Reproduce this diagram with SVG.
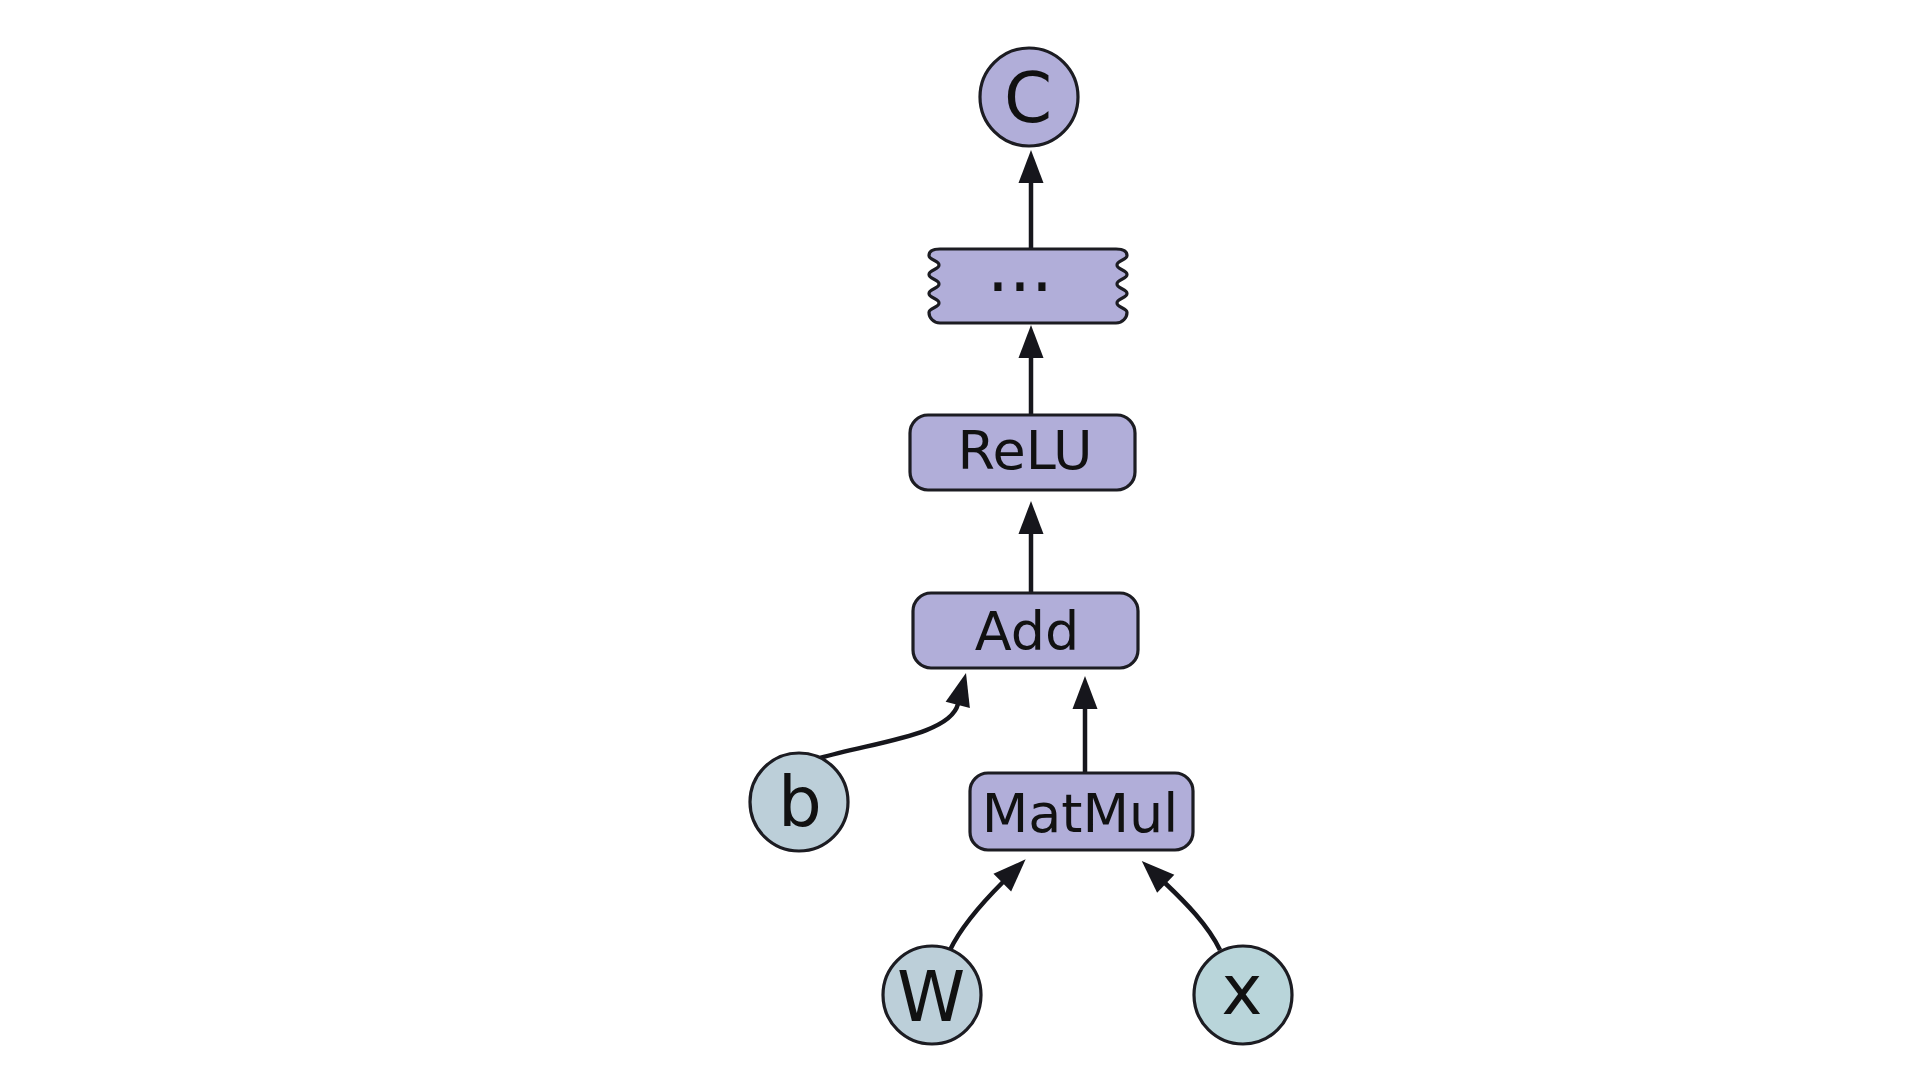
<svg xmlns="http://www.w3.org/2000/svg" width="1920" height="1080" viewBox="0 0 1920 1080">
<style>
.op{fill:#b1aed9;stroke:#1c1c22;stroke-width:3.2}
.var{fill:#bccfd9;stroke:#1c1c22;stroke-width:3.2}
.inp{fill:#b9d5da;stroke:#1c1c22;stroke-width:3.2}
.lbl{font-family:"DejaVu Sans","Liberation Sans",sans-serif;font-size:54px;fill:#111;text-anchor:middle}
.big{font-family:"DejaVu Sans","Liberation Sans",sans-serif;font-size:69px;fill:#111;text-anchor:middle}
.edge{fill:none;stroke:#16161c;stroke-width:4.5;marker-end:url(#ah)}
</style>
<defs>
<marker id="ah" markerUnits="userSpaceOnUse" viewBox="0 -15 40 30" markerWidth="40" markerHeight="30" refX="1" refY="0" orient="auto" overflow="visible">
<path d="M0,-12.5 L33,0 L0,12.5 Z" fill="#16161c"/>
</marker>
</defs>
<rect width="1920" height="1080" fill="#fff"/>
<g id="connectors">
<path class="edge" d="M1031,250 V182"/>
<path class="edge" d="M1031,415 V357"/>
<path class="edge" d="M1031,593 V533"/>
<path class="edge" d="M1085,773 V708"/>
<path class="edge" d="M820,758 C875,742 950,735 958,704"/>
<path class="edge" d="M950,950 C962,925 985,900 1003,882"/>
<path class="edge" d="M1220,950 C1208,925 1185,902 1165,883"/>
</g>
<g id="node-C">
<circle class="op" cx="1029" cy="97" r="49"/>
<text class="big" x="1028" y="122">C</text>
</g>
<g id="node-ellipsis">
<path class="op" d="M940,249 H1116 C1123,249 1127,251.5 1127,255.5 C1127,260.25 1117,260.25 1117,265 S1127,269.75 1127,274.5 S1117,279.25 1117,284 S1127,288.75 1127,293.5 S1117,298.25 1117,303 S1127,307.75 1127,312.5 C1127,317.25 1123,323 1116,323 H940 C933,323 929,317.25 929,312.5 S939,307.75 939,303 S929,298.25 929,293.5 S939,288.75 939,284 S929,279.25 929,274.5 S939,269.75 939,265 S929,260.25 929,255.5 C929,250.75 933,249 940,249 Z"/>
<text x="1020" y="291" font-family="DejaVu Sans, sans-serif" font-size="69" fill="#111" text-anchor="middle">...</text>
</g>
<g id="node-ReLU">
<rect class="op" x="910" y="415" width="225" height="75" rx="18"/>
<text class="lbl" x="1025" y="469">ReLU</text>
</g>
<g id="node-Add">
<rect class="op" x="913" y="593" width="225" height="75" rx="18"/>
<text class="lbl" x="1027" y="650">Add</text>
</g>
<g id="node-MatMul">
<rect class="op" x="970" y="773" width="223" height="77" rx="18"/>
<text class="lbl" x="1080" y="832">MatMul</text>
</g>
<g id="node-b">
<circle class="var" cx="799" cy="802" r="49"/>
<text class="big" x="800" y="826">b</text>
</g>
<g id="node-W">
<circle class="var" cx="932" cy="995" r="49"/>
<text class="big" x="931" y="1021">W</text>
</g>
<g id="node-x">
<circle class="inp" cx="1243" cy="995" r="49"/>
<text class="big" x="1242" y="1014">x</text>
</g>
</svg>
